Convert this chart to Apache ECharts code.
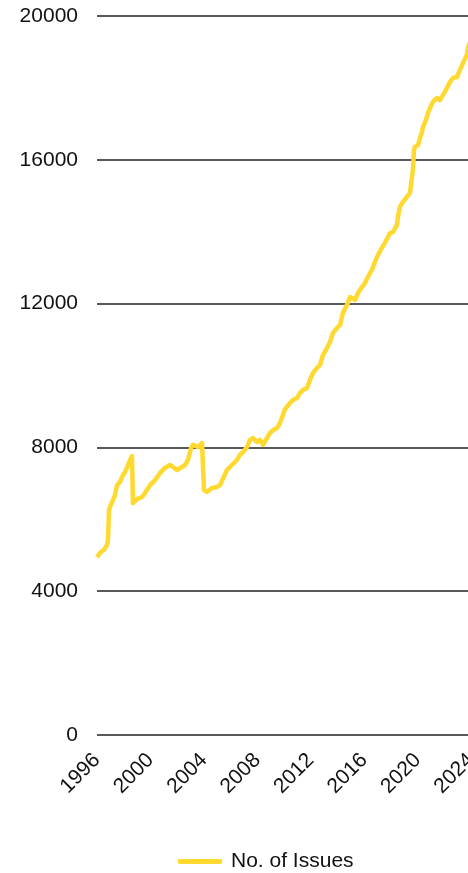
<!DOCTYPE html>
<html>
<head>
<meta charset="utf-8">
<script src="https://cdn.jsdelivr.net/npm/echarts@6/dist/echarts.min.js"></script>
<style>
html,body{margin:0;padding:0;background:#fff;}
#chart{width:468px;height:873px;}
</style>
</head>
<body>
<div id="chart"></div>
<script>
var seriesName = 'No. of Issues';
var years = [1996.00,1996.22,1996.52,1996.75,1996.82,1996.90,1996.97,1997.20,1997.35,1997.50,1997.72,1997.95,1998.10,1998.32,1998.47,1998.62,1998.69,1998.99,1999.37,1999.59,1999.97,2000.34,2000.72,2001.09,2001.46,2001.69,2001.99,2002.36,2002.59,2002.81,2003.04,2003.19,2003.56,2003.86,2004.01,2004.23,2004.61,2004.98,2005.21,2005.73,2006.10,2006.48,2006.70,2006.93,2007.23,2007.45,2007.68,2007.98,2008.20,2008.43,2008.72,2008.95,2009.17,2009.47,2009.70,2009.92,2010.07,2010.45,2010.67,2010.97,2011.19,2011.42,2011.72,2011.94,2012.17,2012.47,2012.69,2012.92,2013.22,2013.44,2013.66,2013.96,2014.19,2014.41,2014.71,2014.94,2015.09,2015.31,2015.54,2015.84,2016.06,2016.28,2016.58,2016.81,2017.03,2017.33,2017.56,2017.78,2017.93,2018.16,2018.46,2018.53,2018.68,2018.90,2019.20,2019.43,2019.58,2019.65,2019.73,2019.80,2020.03,2020.18,2020.33,2020.40,2020.63,2020.78,2020.93,2021.15,2021.45,2021.67,2021.90,2022.20,2022.42,2022.65,2022.95,2023.17,2023.40,2023.69,2023.77,2024.00];
var issues = [4950,5060,5150,5290,5420,6260,6340,6540,6680,6950,7040,7230,7320,7510,7650,7760,6450,6560,6620,6730,6950,7090,7290,7430,7510,7455,7370,7455,7510,7650,7980,8070,8010,8120,6815,6760,6870,6900,6950,7370,7510,7650,7790,7870,8010,8210,8260,8150,8210,8070,8260,8400,8480,8540,8680,8900,9060,9235,9320,9370,9510,9600,9650,9875,10070,10210,10290,10570,10765,10930,11180,11320,11400,11740,11960,12180,12156,12100,12295,12460,12570,12740,12935,13160,13350,13550,13690,13850,13960,13990,14190,14410,14690,14830,14965,15080,15520,15720,16270,16360,16410,16610,16770,16910,17110,17300,17440,17610,17720,17660,17800,18000,18160,18275,18300,18500,18690,18915,19110,19350];
var yTicks = {min:0, max:20000, interval:4000};
var xTicks = {min:1996, max:2024, interval:4};

var data = years.map(function(y,i){return [y, issues[i]];});
var font = 'Liberation Sans, Arial, Helvetica, sans-serif';
var chart = echarts.init(document.getElementById('chart'));
chart.setOption({
  animation:false,
  grid:{left:97, right:-3, top:16, bottom:138, containLabel:false, outerBoundsMode:'none'},
  legend:{
    data:[{name:seriesName, icon:'roundRect'}], top:846, left:173,
    itemWidth:44, itemHeight:5,
    itemStyle:{color:'#FFD92F'},
    textStyle:{fontFamily:font, fontSize:21, color:'#111', padding:[0,0,0,4]}
  },
  xAxis:{
    type:'value', min:xTicks.min, max:xTicks.max, interval:xTicks.interval,
    axisLine:{show:false}, axisTick:{show:false}, splitLine:{show:false},
    axisLabel:{rotate:45, margin:22, fontFamily:font, fontSize:21, color:'#111',
      formatter:function(v){return String(v);}}
  },
  yAxis:{
    type:'value', min:yTicks.min, max:yTicks.max, interval:yTicks.interval,
    axisLine:{show:false}, axisTick:{show:false},
    splitLine:{show:true, lineStyle:{color:'#222', width:1.5}},
    axisLabel:{margin:19, fontFamily:font, fontSize:21, color:'#111',
      formatter:function(v){return String(v);}}
  },
  series:[{
    name:seriesName, type:'line', data:data, showSymbol:false, symbol:'none',
    lineStyle:{color:'#FFD92F', width:4.5, join:'round'}, itemStyle:{color:'#FFD92F'}
  }]
});
</script>
</body>
</html>
